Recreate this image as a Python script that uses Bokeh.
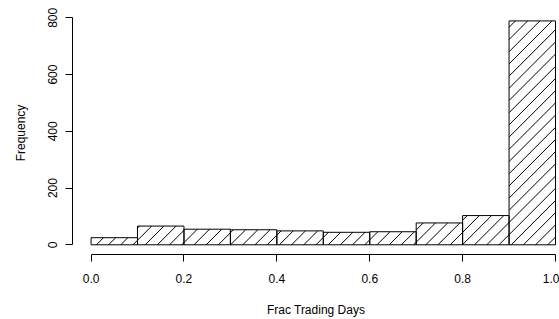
from bokeh.plotting import figure
from bokeh.models import Range1d, FixedTicker, ColumnDataSource
from bokeh.embed import file_html
from bokeh.resources import INLINE

# Histogram data
bin_left = [0.0, 0.1, 0.2, 0.3, 0.4, 0.5, 0.6, 0.7, 0.8, 0.9]
bin_right = [0.1, 0.2, 0.3, 0.4, 0.5, 0.6, 0.7, 0.8, 0.9, 1.0]
counts = [25, 66, 55, 53, 49, 44, 46, 77, 103, 789]

x_ticks = [0.0, 0.2, 0.4, 0.6, 0.8, 1.0]
x_tick_labels = ["0.0", "0.2", "0.4", "0.6", "0.8", "1.0"]
y_ticks = [0, 200, 400, 600, 800]

FONT = "Liberation Sans"

W, H = 559, 319
BL, BR, BT, BB = 72, 0, 11, 65
XR = (-0.04, 1.0086)
YR = (-34.2, 822.2)

p = figure(width=W, height=H, output_backend="svg", toolbar_location=None,
           x_range=Range1d(*XR), y_range=Range1d(*YR),
           min_border_left=BL, min_border_right=BR, min_border_top=BT, min_border_bottom=BB)
p.outline_line_color = None
p.xgrid.visible = False
p.ygrid.visible = False
p.background_fill_color = "white"
p.border_fill_color = "white"

src = ColumnDataSource(dict(left=bin_left, right=bin_right, top=counts, bottom=[0] * len(counts)))
p.quad(left="left", right="right", top="top", bottom="bottom", source=src,
       fill_color="white", line_color=None)

# 45-degree hatching (in screen space), computed from the bars via the scales
px_x = (W - BL - BR) / (XR[1] - XR[0])      # pixels per x unit
px_y = (H - BT - BB) / (YR[1] - YR[0])      # pixels per count
spacing = 12.2 / px_x                       # horizontal spacing of hatch lines (data units)
phase = 5.3 / px_x
k = px_x / px_y                             # counts per x unit along a 45deg line
hx0, hy0, hx1, hy1 = [], [], [], []
for l, r, h in zip(bin_left, bin_right, counts):
    n0 = int((l - h / k - phase) // spacing) - 1
    n1 = int((r - phase) // spacing) + 1
    for n in range(n0, n1 + 1):
        c = phase + n * spacing
        ys = max(0.0, (l - c) * k)
        ye = min(float(h), (r - c) * k)
        if ye > ys:
            hx0.append(c + ys / k); hy0.append(ys)
            hx1.append(c + ye / k); hy1.append(ye)
p.segment(x0=hx0, y0=hy0, x1=hx1, y1=hy1, line_color="black", line_width=1)

p.quad(left="left", right="right", top="top", bottom="bottom", source=src,
       fill_color=None, line_color="black", line_width=1)

for ax in (p.xaxis[0], p.yaxis[0]):
    ax.axis_line_color = "black"
    ax.axis_line_width = 1
    ax.major_tick_line_color = "black"
    ax.major_tick_out = 7
    ax.major_tick_in = 0
    ax.minor_tick_line_color = None
    ax.major_label_text_font = FONT
    ax.major_label_text_font_size = "12px"
    ax.major_label_text_color = "black"
    ax.axis_label_text_font = FONT
    ax.axis_label_text_font_size = "12px"
    ax.axis_label_text_font_style = "normal"
    ax.axis_label_text_color = "black"

p.xaxis.ticker = FixedTicker(ticks=x_ticks)
p.xaxis.major_label_overrides = {t: l for t, l in zip(x_ticks, x_tick_labels)}
p.xaxis.bounds = (0, 1)
p.xaxis.axis_label = "Frac Trading Days"
p.xaxis.major_label_standoff = 12
p.xaxis.axis_label_standoff = 17

p.yaxis.ticker = FixedTicker(ticks=y_ticks)
p.yaxis.bounds = (0, 800)
p.yaxis.axis_label = "Frequency"
p.yaxis.major_label_orientation = "vertical"
p.yaxis.major_label_standoff = 8
p.yaxis.axis_label_standoff = 18

open("out.html", "w").write(file_html(p, INLINE))
